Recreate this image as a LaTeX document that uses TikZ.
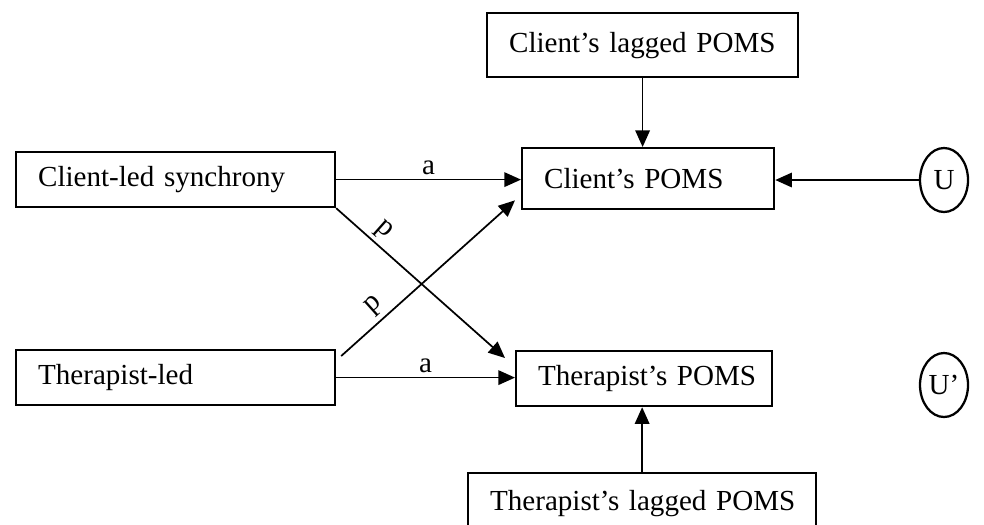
\documentclass[tikz,border=0pt]{standalone}
\usepackage{fontspec}
\setmainfont{Liberation Serif}
\usetikzlibrary{positioning,arrows.meta,calc,shapes.geometric}
\tikzset{
  every node/.style={font=\fontsize{10.9}{13}\selectfont},
  box/.style={draw,line width=0.85pt,anchor=north west,align=left,inner xsep=8.25pt,inner ysep=0pt,
    execute at begin node=\hbox\bgroup,execute at end node=\egroup},
  latent/.style={draw,ellipse,line width=0.85pt,minimum width=18pt,minimum height=24pt,inner sep=0pt},
  effect/.style={line width=0.65pt,-{Triangle[length=6.2pt,width=5.4pt]}},
  lbl/.style={inner sep=1.5pt}
}

\begin{document}
\begin{tikzpicture}[x=0.375pt,y=-0.375pt]
  \useasboundingbox (0,0) rectangle (984,524);
  % synchrony measures
  \node[box,text width=103.1pt,minimum height=20.6pt] (csync) at (15,151) {Client-led synchrony};
  \node[box,text width=103.1pt,minimum height=20.6pt] (tled) at (15,349) {Therapist-led};
  % outcomes and lagged outcomes
  \node[box,text width=100.1pt,minimum height=24pt] (clag) at (486,12) {Client’s lagged POMS};
  \node[box,text width=78pt,minimum height=22.9pt] (cpoms) at (521,147) {Client’s POMS};
  \node[box,text width=79.5pt,minimum height=20.6pt] (tpoms) at (515,350) {Therapist’s POMS};
  \node[box,text width=114pt,minimum height=23pt] (tlag) at (467,472) {Therapist’s lagged POMS};
  % residuals
  \node[latent] (u) at (944,180) {U};
  \node[latent] (u2) at (944,385) {U’};

  \draw[effect] (csync.east) -- node[lbl,above]{a} (csync.east -| cpoms.west);
  \draw[effect] (tled.east) -- node[lbl,above]{a} (tled.east -| tpoms.west);
  \draw[effect] (csync.south east) -- node[lbl,above,sloped,pos=0.22]{p} ($(tpoms.north west)+(-10,8)$);
  \draw[effect] ($(tled.north east)+(5,7)$) -- node[lbl,above,sloped,pos=0.25]{p} ($(cpoms.south west)+(-6,-10)$);
  \draw[effect] (clag.south) -- (clag.south |- cpoms.north);
  \draw[effect] (tlag.north) -- (tlag.north |- tpoms.south);
  \draw[effect] (u.west) -- (u.west -| cpoms.east);
\end{tikzpicture}
\end{document}
